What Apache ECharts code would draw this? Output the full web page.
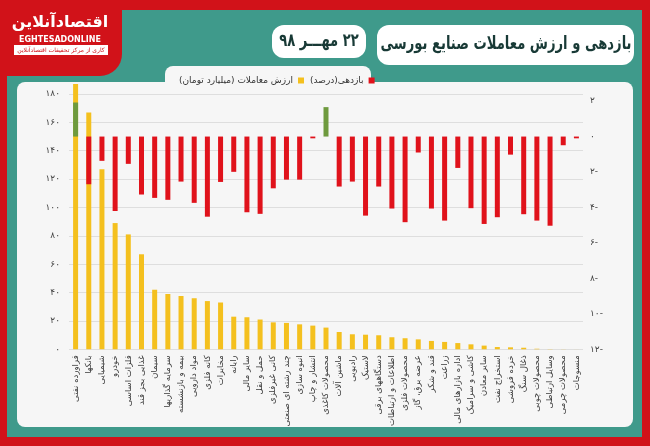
<!DOCTYPE html>
<html><head><meta charset="utf-8">
<script src="https://cdn.jsdelivr.net/npm/echarts@6/dist/echarts.min.js"></script>
<style>html,body{margin:0;padding:0;background:#d11219;}#c{width:650px;height:446px;}</style>
</head><body><div id="c"></div>
<script>
const categories = ['فراورده نفتی','بانکها','شیمیایی','خودرو','فلزات اساسی','غذایی بجز قند','سیمان','سرمایه گذاریها','بیمه و بازنشسته','مواد دارویی','کانه فلزی','مخابرات','رایانه','سایر مالی','حمل و نقل','کانی غیرفلزی','چند رشته ای صنعتی','انبوه سازی','انتشار و چاپ','محصولات کاغذی','ماشین آلات','رادیویی','لاستیک','دستگاههای برقی','اطلاعات و ارتباطات','محصولات فلزی','عرضه برق، گاز','قند و شکر','زراعت','اداره بازارهای مالی','کاشی و سرامیک','سایر معادن','استخراج نفت','خرده فروشی','ذغال سنگ','محصولات چوبی','وسایل ارتباطی','محصولات چرمی','منسوجات'];
const tradeValue = [187,167,127,89,81,67,42,39,37.6,36,34,33,23,22.6,21,19,18.6,17.6,16.7,15.3,12.2,10.6,10.3,9.9,8.5,7.8,7,5.9,5.2,4.4,3.5,2.6,1.6,1.4,1.1,0.4,0.15,0.08,0.03];
const returns = [1.92,-2.69,-1.37,-4.2,-1.54,-3.27,-3.46,-3.57,-2.54,-3.74,-4.52,-2.56,-1.99,-4.27,-4.36,-2.92,-2.43,-2.43,-0.1,1.66,-2.82,-2.54,-4.46,-2.82,-4.06,-4.83,-0.9,-4.06,-4.74,-1.77,-4.04,-4.93,-4.55,-1.02,-4.38,-4.74,-5.03,-0.49,-0.1];
const seriesNames = ['ارزش معاملات (میلیارد تومان)','بازدهی(درصد)'];
const titleText = 'بازدهی و ارزش معاملات صنایع بورسی';
const dateText = '۲۲ مهـــر ۹۸';

const fa = s => String(s).replace(/\d/g, d => '۰۱۲۳۴۵۶۷۸۹'[d]);
const rtl = s => '\u202B' + s + '\u202C';
const RED = '#d11219', TEAL = '#3f9a8b', PANEL = '#f6f6f6';
const FONT = 'DejaVu Sans';

const chart = echarts.init(document.getElementById('c'));
chart.setOption({
  animation: false,
  textStyle: { fontFamily: FONT },
  graphic: [
    { type: 'rect', z: -10, shape: { x: 0, y: 0, width: 650, height: 446 }, style: { fill: RED } },
    { type: 'rect', z: -9, shape: { x: 7, y: 10, width: 635, height: 427 }, style: { fill: TEAL } },
    { type: 'rect', z: -8, shape: { x: -30, y: -30, width: 152, height: 106, r: 22 }, style: { fill: RED } },
    { type: 'rect', z: -7, shape: { x: 17, y: 82, width: 616, height: 345, r: 8 }, style: { fill: PANEL } },
    { type: 'rect', z: -7, shape: { x: 165, y: 66, width: 206, height: 22, r: [8, 8, 0, 0] }, style: { fill: PANEL } },
    { type: 'rect', z: 5, shape: { x: 377, y: 25, width: 257, height: 40, r: 12 }, style: { fill: '#ffffff' } },
    { type: 'rect', z: 5, shape: { x: 272, y: 25, width: 94, height: 33, r: 12 }, style: { fill: '#ffffff' } },
    { type: 'text', z: 6, x: 506, y: 44, scaleX: 0.73, style: { x: 0, y: 0, text: rtl(titleText), fill: '#183a36', font: 'bold 18px "DejaVu Sans"', align: 'center', verticalAlign: 'middle' } },
    { type: 'text', z: 6, x: 319, y: 41, scaleX: 0.73, style: { x: 0, y: 0, text: rtl(dateText), fill: '#183a36', font: 'bold 18px "DejaVu Sans"', align: 'center', verticalAlign: 'middle' } },
    { type: 'text', z: 6, style: { x: 60, y: 23, text: 'اقتصادآنلاین', fill: '#ffffff', font: 'bold 16px "DejaVu Sans"', align: 'center', verticalAlign: 'middle' } },
    { type: 'text', z: 6, style: { x: 60, y: 40, text: 'EGHTESADONLINE', fill: '#ffffff', font: 'bold 8px "DejaVu Sans"', align: 'center', verticalAlign: 'middle' } },
    { type: 'rect', z: 6, shape: { x: 14, y: 45, width: 94, height: 10 }, style: { fill: '#ffffff' } },
    { type: 'text', z: 7, style: { x: 61, y: 50, text: 'کاری از مرکز تحقیقات اقتصادآنلاین', fill: RED, font: '6px "DejaVu Sans"', align: 'center', verticalAlign: 'middle' } }
  ],
  legend: {
    data: seriesNames,
    formatter: name => rtl(name),
    left: 174, top: 71,
    align: 'right',
    icon: 'rect', itemWidth: 6, itemHeight: 6, itemGap: 6,
    textStyle: { fontSize: 9, color: '#333', fontFamily: FONT },
    selectedMode: false
  },
  grid: { left: 69, right: 67, top: 94, bottom: 96.7, containLabel: false },
  xAxis: {
    type: 'category', data: categories,
    axisLine: { show: false }, axisTick: { show: false },
    axisLabel: { interval: 0, rotate: 90, fontSize: 8.5, color: '#3a3a3a', margin: 6, fontFamily: FONT }
  },
  yAxis: [
    { type: 'value', min: 0, max: 180, interval: 20, position: 'left',
      axisLine: { show: false }, axisTick: { show: false },
      axisLabel: { formatter: v => fa(v), fontSize: 9, color: '#444', margin: 9 },
      splitLine: { lineStyle: { color: '#dedede', width: 1 } } },
    { type: 'value', min: -12, max: 2.4, interval: 2, position: 'right',
      axisLine: { show: false }, axisTick: { show: false },
      axisLabel: { showMaxLabel: false, formatter: v => v < 0 ? fa(-v) + '-' : fa(v), fontSize: 9, color: '#444', margin: 7 },
      splitLine: { show: false } }
  ],
  series: [
    { name: seriesNames[0], type: 'bar', yAxisIndex: 0, data: tradeValue, barWidth: 5, barGap: '-100%', clip: false,
      itemStyle: { color: '#f4c01e' } },
    { name: seriesNames[1], type: 'bar', yAxisIndex: 1, barWidth: 5, clip: false,
      itemStyle: { color: '#e0121b' },
      data: returns.map(v => ({ value: v, itemStyle: { color: v > 0 ? '#6e9a3e' : '#e0121b' } })) }
  ]
});
</script></body></html>
